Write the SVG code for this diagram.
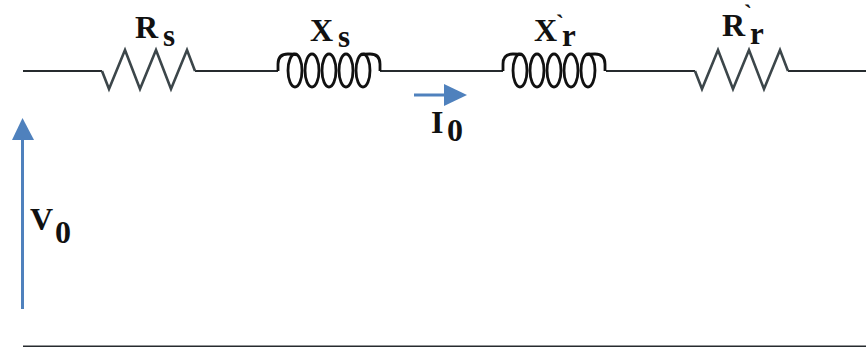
<svg xmlns="http://www.w3.org/2000/svg" width="866" height="347" viewBox="0 0 866 347">
<style>
.w{fill:none;stroke:#262b2e;stroke-width:2}
.r{fill:none;stroke:#3c464a;stroke-width:2.6;stroke-linejoin:miter}
.c{fill:none;stroke:#111;stroke-width:2.8}
.a{fill:none;stroke:#4f81bd;stroke-width:3}
.h{fill:#4f81bd}
text{font-family:"Liberation Serif","Times New Roman",serif;font-weight:bold;fill:#111}
.m{font-size:32px}
.s{font-size:31px}
.n{font-size:32px}
.b{font-size:24px}
</style>
<defs>
<path id="zig" class="r" d="M0 0 L7 18 L23 -21 L38 18 L54 -21 L69 18 L85 -21 L93 0"/>
<g id="coil">
<path class="c" d="M0 0 V-7 Q0 -17 10 -17 C14 -17 17 -17 19 -16 M102 0 V-7 Q102 -17 92 -17 C88 -17 85 -17 83 -16"/>
<ellipse class="c" cx="17" cy="-0.500" rx="7" ry="16.500"/>
<ellipse class="c" cx="34" cy="-0.500" rx="7" ry="16.500"/>
<ellipse class="c" cx="51" cy="-0.500" rx="7" ry="16.500"/>
<ellipse class="c" cx="68" cy="-0.500" rx="7" ry="16.500"/>
<ellipse class="c" cx="85" cy="-0.500" rx="7" ry="16.500"/>
</g>
</defs>
<g id="connectors">
<path class="w" d="M23 71H102M195 71H278M380 71H503M606 71H695M788 71H866"/>
<path class="w" d="M23 346.500H866"/>
<path class="a" d="M22.500 309V136"/>
<path class="h" d="M22.500 118L34 140H12Z"/>
<path class="a" d="M414 95H446"/>
<path class="h" d="M444 84L467 95L444 106Z"/>
</g>
<g id="Rs"><use href="#zig" x="102" y="71"/><text class="m" x="135" y="38">R</text><text class="s" x="163" y="46">s</text></g>
<g id="Xs"><use href="#coil" x="278" y="71"/><text class="m" x="310" y="41">X</text><text class="s" x="338" y="47">s</text></g>
<g id="Xr"><use href="#coil" x="503" y="71"/><text class="m" x="534" y="41">X</text><text class="b" x="556" y="31">`</text><text class="s" x="562" y="46">r</text></g>
<g id="Rr"><use href="#zig" x="695" y="71"/><text class="m" x="722" y="36">R</text><text class="b" x="744" y="21">`</text><text class="s" x="750" y="44">r</text></g>
<g id="I0"><text class="m" x="431" y="133">I</text><text class="n" x="447" y="141">0</text></g>
<g id="V0"><text class="m" x="30" y="230">V</text><text class="n" x="55" y="243">0</text></g>
</svg>
